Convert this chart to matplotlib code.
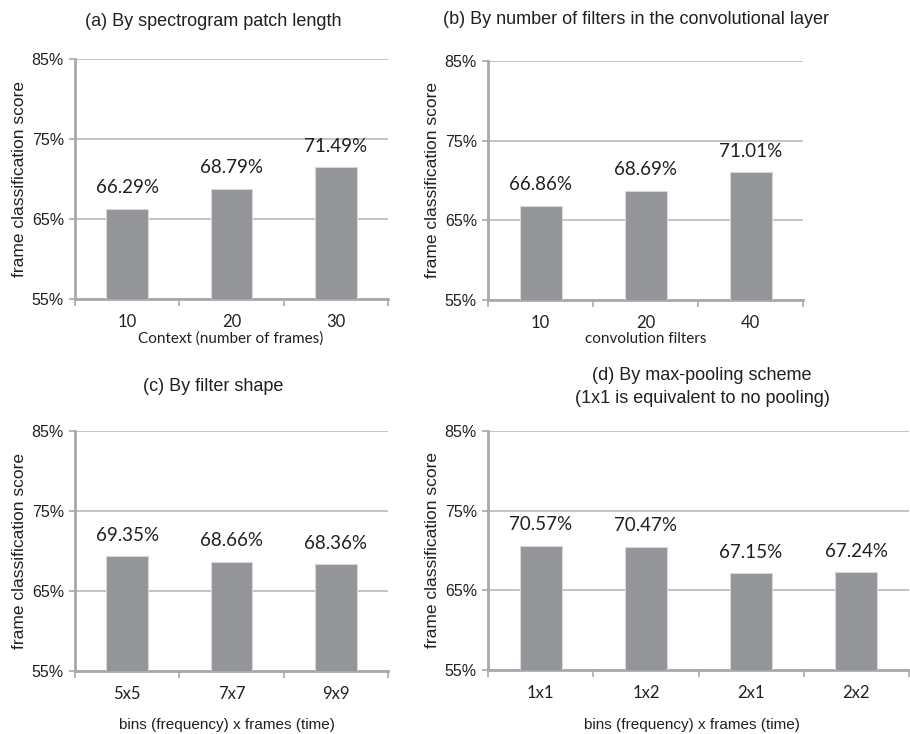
import matplotlib
matplotlib.use("Agg")
import matplotlib.pyplot as plt
from matplotlib.ticker import FixedLocator

# Panel data
a_labels = ["10", "20", "30"]
a_values = [66.29, 68.79, 71.49]
b_labels = ["10", "20", "40"]
b_values = [66.86, 68.69, 71.01]
c_labels = ["5x5", "7x7", "9x9"]
c_values = [69.35, 68.66, 68.36]
d_labels = ["1x1", "1x2", "2x1", "2x2"]
d_values = [70.57, 70.47, 67.15, 67.24]
y_ticks = [55, 65, 75, 85]

W, H = 910, 734
TEXT = "#231f20"
BAR = "#939598"
GRID = "#bcbec0"
SPINE = "#a7a9ac"

fig = plt.figure(figsize=(W / 100, H / 100), dpi=100)
fig.patch.set_facecolor("white")


def px_axes(left, right, top, bottom):
    return fig.add_axes([left / W, 1 - bottom / H, (right - left) / W, (bottom - top) / H])


def panel(ax, labels, values, title, title_xy, xlabel, xlabel_xy, xlabel_font, xlabel_size):
    n = len(labels)
    x = list(range(n))
    ax.bar(x, values, width=0.4, bottom=0, color=BAR, edgecolor="#d6d7d8",
           linewidth=0.8, zorder=3)
    ax.set_xlim(-0.5, n - 0.5)
    ax.set_ylim(55, 85)
    ax.set_yticks(y_ticks)
    ax.set_yticklabels([f"{t}%" for t in y_ticks], fontsize=11.5,
                       family="Liberation Sans", color=TEXT)
    ax.yaxis.grid(True, color=GRID, linewidth=1.3, zorder=0)
    ax.set_axisbelow(True)
    ax.tick_params(axis="y", length=4, width=1.2, color=SPINE, pad=4)
    ax.set_xticks(x)
    ax.set_xticklabels(labels, fontsize=12, family="Lato", color=TEXT)
    ax.tick_params(axis="x", which="major", length=0, pad=11)
    ax.xaxis.set_minor_locator(FixedLocator([i - 0.5 for i in range(n + 1)]))
    ax.tick_params(axis="x", which="minor", length=5, width=1.2, color=SPINE)
    for s in ("top", "right"):
        ax.spines[s].set_visible(False)
    for s in ("left", "bottom"):
        ax.spines[s].set_color(SPINE)
        ax.spines[s].set_linewidth(2.0)
    ax.set_ylabel("frame classification score", fontsize=12.5,
                  family="Liberation Sans", color=TEXT, labelpad=3)
    for xi, v in zip(x, values):
        ax.annotate(f"{v:.2f}%", (xi, v), xytext=(0, 9), textcoords="offset points",
                    ha="center", va="bottom", fontsize=13.5, family="Lato", color=TEXT)
    fig.text(title_xy[0] / W, 1 - title_xy[1] / H, title, ha="center", va="center",
             fontsize=13, family="Liberation Sans", color=TEXT, linespacing=1.45)
    fig.text(xlabel_xy[0] / W, 1 - xlabel_xy[1] / H, xlabel, ha="center", va="center",
             fontsize=xlabel_size, family=xlabel_font, color=TEXT)


ax_a = px_axes(75, 388, 59, 299)
panel(ax_a, a_labels, a_values, "(a) By spectrogram patch length", (213, 21),
      "Context (number of frames)", (231, 339), "Lato", 11)

ax_b = px_axes(488, 803, 61, 300)
panel(ax_b, b_labels, b_values, "(b) By number of filters in the convolutional layer", (636, 19),
      "convolution filters", (646, 339), "Lato", 11)

ax_c = px_axes(75, 388, 431, 671)
panel(ax_c, c_labels, c_values, "(c) By filter shape", (213, 387),
      "bins (frequency) x frames (time)", (227, 725), "Liberation Sans", 11)

ax_d = px_axes(488, 909, 431, 670)
panel(ax_d, d_labels, d_values, "(d) By max-pooling scheme\n(1x1 is equivalent to no pooling)", (702, 387),
      "bins (frequency) x frames (time)", (692, 725), "Liberation Sans", 11)

fig.savefig("out.png", dpi=100, facecolor="white")
